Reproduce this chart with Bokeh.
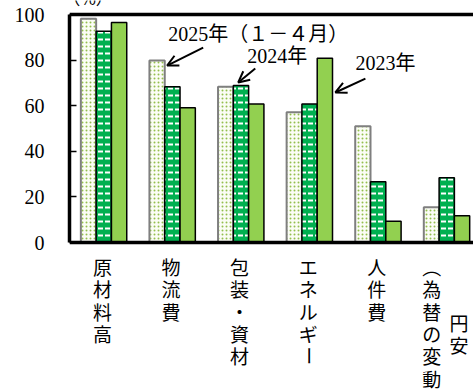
import numpy as np
from bokeh.plotting import figure
from bokeh.models import (Range1d, Span, Arrow, OpenHead, Label,
                          ColumnDataSource, FixedTicker)
from bokeh.core.properties import value
from bokeh.embed import file_html
from bokeh.resources import INLINE

# ---------------- data ----------------
categories = ["原材料高", "物流費", "包装・資材", "エネルギー", "人件費", "円安（為替の変動）"]
series_names = ["2025年（１－４月）", "2024年", "2023年"]
v2025 = [98.1, 79.8, 68.3, 57.1, 51.0, 15.5]
v2024 = [92.7, 68.3, 68.9, 60.8, 26.6, 28.4]
v2023 = [96.5, 59.1, 60.8, 80.8, 9.3, 11.7]
y_ticks = [0, 20, 40, 60, 80, 100]
unit_label = "（%）"

SERIF = "'Liberation Serif', 'Noto Sans CJK JP'"
CJK = "Noto Sans CJK JP"

# ---------------- figure ----------------
# frame covers the full height so that the vertical category labels are inside it
PX = 2.28            # pixels per unit on y
Y_ZERO_PX = 242      # pixel row of y = 0
y_top = Y_ZERO_PX / PX
y_bot = -(389 - Y_ZERO_PX) / PX

p = figure(width=473, height=389, output_backend="svg", toolbar_location=None,
           x_range=Range1d(0, 5.89), y_range=Range1d(y_bot, y_top),
           min_border_left=69, min_border_right=0, min_border_top=0,
           min_border_bottom=0)
p.outline_line_color = None
p.grid.visible = False
p.background_fill_color = "white"
p.border_fill_color = "white"
p.xaxis.visible = False

bw = 0.223
xc = np.arange(len(categories)) + 0.5

# 2025 bars: pale with green dotted pattern
p.vbar(x=xc - bw, top=v2025, width=bw, fill_color="#FBFDF5",
       line_color="#7F7F7F", line_width=2,
       hatch_pattern="dot", hatch_color="#93BE4E",
       hatch_scale=4, hatch_weight=2)
# 2024 bars: green with white dashes
p.vbar(x=xc, top=v2024, width=bw, fill_color="#00B050",
       line_color="black", line_width=1.5,
       hatch_pattern="horizontal_dash", hatch_color="white",
       hatch_scale=7, hatch_weight=2)
# 2023 bars: solid light green
p.vbar(x=xc + bw, top=v2023, width=bw, fill_color="#92D050",
       line_color="black", line_width=1.5)

# top border and baseline
p.add_layout(Span(location=100, dimension="width", line_color="black",
                  line_width=3.5))
p.add_layout(Span(location=0, dimension="width", line_color="black",
                  line_width=3.5))

# y axis
p.yaxis.bounds = (0, 100)
p.yaxis.ticker = FixedTicker(ticks=y_ticks)
p.yaxis.axis_line_width = 3.5
p.yaxis.major_tick_in = 7
p.yaxis.major_tick_out = 0
p.yaxis.major_tick_line_width = 1.5
p.yaxis.minor_tick_line_color = None
p.yaxis.major_label_standoff = 25
p.yaxis.major_label_text_font = SERIF
p.yaxis.major_label_text_font_size = "20px"
p.yaxis.major_label_text_color = "black"

# unit label (partly above the window, as in the reference)
p.text(x=[0.27], y=[(Y_ZERO_PX + 3) / PX], text=[unit_label],
       text_font=value(CJK), text_font_size="17px", text_align="center",
       text_baseline="middle", text_color="black")

# vertical category labels
step = 22.3 / PX
y0 = -(266.0 - Y_ZERO_PX) / PX
vert_map = {"（": "︵", "）": "︶"}
cx, cy, ct, ca = [], [], [], []
for i, cat in enumerate(categories):
    if "（" in cat:
        k = cat.index("（")
        cols = [cat[:k], cat[k:]]
        xs = [xc[i] + 0.18, xc[i] - 0.22]
        n_max = max(len(c) for c in cols)
        for col, xx in zip(cols, xs):
            off = (n_max - len(col)) / 2.0
            for j, ch in enumerate(col):
                cx.append(xx)
                cy.append(y0 - (j + off) * step)
                ct.append(vert_map.get(ch, ch))
                ca.append(np.pi / 2 if ch == "ー" else 0.0)
    else:
        for j, ch in enumerate(cat):
            cx.append(xc[i] - 0.02)
            cy.append(y0 - j * step)
            ct.append(ch)
            ca.append(np.pi / 2 if ch == "ー" else 0.0)

lab_src = ColumnDataSource(dict(x=cx, y=cy, text=ct, angle=ca))
p.text(x="x", y="y", text="text", angle="angle", source=lab_src,
       text_font=value(CJK), text_font_size="19px",
       text_align="center", text_baseline="middle", text_color="black")

# series annotations with arrows
ann = [
    # (series index, category index, text x, text y, tail x, tail y, head dx, head dy)
    (0, 1, 1.438, 91.4, 1.949, 85.5, 0.146, -2.2),
    (1, 2, 2.59, 82.0, 2.708, 76.3, -0.04, 1.3),
    (2, 3, 4.17, 78.7, 4.314, 71.9, 0.153, -15.0),
]
vals = [v2025, v2024, v2023]
offs = [-bw, 0.0, bw]
for s, c, tx, ty, sx, sy, hdx, hdy in ann:
    p.add_layout(Label(x=tx, y=ty, text=series_names[s], text_font=SERIF,
                       text_font_size="20px", text_align="left",
                       text_baseline="middle", text_color="black"))
    hx = xc[c] + offs[s] + hdx
    hy = vals[s][c] + hdy
    p.add_layout(Arrow(end=OpenHead(size=11, line_width=2, line_color="black"),
                       x_start=sx, y_start=sy, x_end=hx, y_end=hy,
                       line_width=2, line_color="black"))

open("out.html", "w").write(file_html(p, INLINE))
